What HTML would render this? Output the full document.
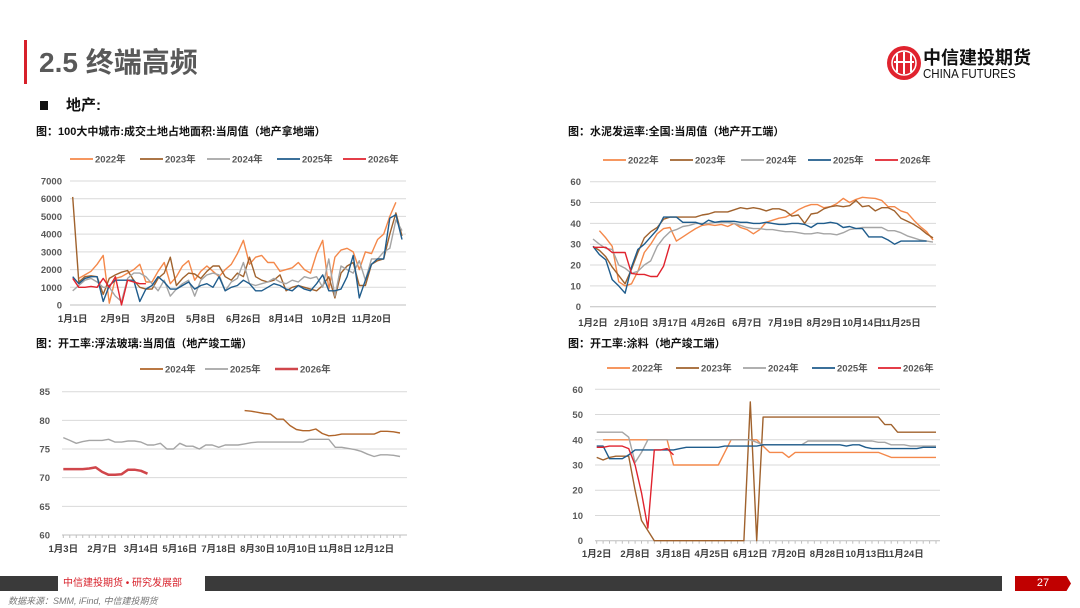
<!DOCTYPE html>
<html><head><meta charset="utf-8">
<style>
body{margin:0;width:1080px;height:608px;background:#fff;overflow:hidden;position:relative;font-family:"Liberation Sans","Noto Sans CJK SC",sans-serif;}
.abs{position:absolute;}
svg text{font-family:"Liberation Sans","Noto Sans CJK SC",sans-serif;}
</style></head><body>
<div class="abs" style="left:24px;top:40px;width:3px;height:44px;background:#d7202a"></div>
<div class="abs" style="left:39px;top:41px;font-size:28px;font-weight:bold;color:#595959">2.5 终端高频</div>
<div class="abs" style="left:40px;top:94px;font-size:15px;font-weight:bold;color:#111"><span style="display:inline-block;width:8px;height:9px;background:#111;margin-right:18px"></span>地产:</div>
<svg class="abs" style="left:884px;top:44px" width="40" height="40">
<circle cx="20" cy="19" r="17" fill="#e0232e"/><circle cx="20" cy="19" r="12" fill="none" stroke="#fff" stroke-width="1.5"/>
<rect x="12" y="10" width="2" height="18" fill="#fff"/><rect x="19" y="8" width="2" height="22" fill="#fff"/><rect x="26" y="10" width="2" height="18" fill="#fff"/><rect x="10" y="17" width="20" height="2" fill="#fff"/></svg>
<div class="abs" style="left:923px;top:44px;font-size:18px;font-weight:bold;color:#111">中信建投期货</div>
<div class="abs" style="left:923px;top:67px;font-size:12.5px;color:#111;transform:scaleX(0.92);transform-origin:left">CHINA FUTURES</div>

<svg id="chart" class="abs" style="left:0;top:0" width="1080" height="608"></svg>

<div class="abs" style="left:0;top:576px;width:58px;height:15px;background:#3a3a3a"></div>
<div class="abs" style="left:63px;top:576px;font-size:10px;color:#d7202a;line-height:15px">中信建投期货 • 研究发展部</div>
<div class="abs" style="left:205px;top:576px;width:797px;height:15px;background:#3a3a3a"></div>
<div class="abs" style="left:1015px;top:576px;width:56px;height:15px;background:#c00000;color:#fff;font-size:11px;line-height:15px;text-align:center;clip-path:polygon(0 0,92% 0,100% 50%,92% 100%,0 100%)">27</div>
<div class="abs" style="left:8px;top:594px;font-size:9px;font-style:italic;color:#777">数据来源：SMM, iFind, 中信建投期货</div>

<script>
// ---- Chart 1: land area ----
const c1Labels=["1月1日","2月9日","3月20日","5月8日","6月26日","8月14日","10月2日","11月20日"];
const c1Y=[0,1000,2000,3000,4000,5000,6000,7000];
const c1s2022=[null,1500,1700,1900,2300,2800,100,1500,1600,1800,2000,2300,1300,1300,1900,2400,1200,1600,2200,2500,1400,1900,2200,1900,1600,2000,2300,2900,3650,2300,2700,2800,2400,2400,1900,2000,2100,2400,2000,1800,2900,3650,900,2700,3100,3200,3000,2000,3000,2900,3700,4000,5000,5800,null];
const c1s2023=[6100,1300,1600,1650,1600,600,1500,1700,1850,1950,1400,1000,900,900,1500,1800,2700,1100,1500,1800,1750,1500,1900,2200,2200,1600,1400,1800,1600,2700,1600,1400,1300,1400,1700,800,1000,1100,1000,900,800,1100,1600,400,1800,2200,2400,1100,1100,2300,2500,2600,4000,5200,3900];
const c1s2024=[800,1100,1400,1500,1300,1000,1000,500,200,1500,1800,1800,1600,1200,800,1400,500,900,1200,1400,500,1400,1700,1800,1700,800,1300,1500,2400,1200,1100,1200,1300,1500,1300,1200,1400,1300,1600,1500,1600,1000,2600,500,2200,2000,1800,2500,1400,2600,2600,3000,3200,4800,4200];
const c1s2025=[1600,1200,1500,1600,1600,200,1100,1400,1400,1400,1400,200,900,1100,1600,1300,900,900,1100,1300,900,1100,1200,1000,1600,800,1000,1100,1400,1200,800,800,1000,1200,1100,900,800,1100,900,800,1200,1700,800,800,900,1600,2800,400,1400,2300,2600,2600,4900,5100,3700];
const c1s2026=[1500,1000,1000,1050,1000,1500,1000,1600,0,1400,1300,1200,1200];
// ---- Chart 2: cement ----
const c2Labels=["1月2日","2月10日","3月17日","4月26日","6月7日","7月19日","8月29日","10月14日","11月25日"];
const c2Y=[0,10,20,30,40,50,60];
const c2s2022=[null,36.5,33,29,12,10,11,17,26,30,35,37.5,38,31.5,33.5,35.5,37.5,39,39.5,39,39.5,38.5,40,38,37,35,37,40.5,41.5,42.5,43,44.5,46.5,48,49,49,47.5,48,49.5,52,50,51.5,52.5,52.2,52,51,48,48,46,45,41.5,38.5,36,32];
const c2s2023=[29,27,24,19,15,11,18,26,33,36,38,42,43,43,43,43,43,44,44.5,45.5,45.5,45.5,46.5,47.5,47,47.5,47,46,47,47,46,43.5,44,40,44.5,45,47,48,48.5,48,48.5,51,48,48.5,46,47.5,47.5,46,42.5,41,39.5,37.5,35,33];
const c2s2024=[32.5,30,28,27.5,20,18.5,16,17,20,22,29,33,36,37,38.5,39,40,40,40,40.5,40.5,40.5,40,39,38,37.5,37.5,37,37,36.5,36,36,35.5,35,35,35.5,35,35,34.5,35.5,37,37.5,38,38,38,38,36.5,36.5,35.5,34,33,32,31.5,31];
const c2s2025=[29,25,22.5,13,10,6.5,19,27.5,30,33.5,37,43,43,43,40.5,40.5,40.5,39.5,41.5,40.5,41,41,41,40.5,40.5,40,40,40.5,40,39.5,39.5,40,40,39.5,38,40,40,40.5,40,38,38.5,37.5,37.5,33.5,33.5,33.5,32,30,31.5,31.5,31.5,31.5,31.5];
const c2s2026=[28.5,28.5,28.5,26,26,26,16,15.5,15.5,14.5,14.5,19.5,30];
// ---- Chart 3: glass ----
const c3Labels=["1月3日","2月7日","3月14日","5月16日","7月18日","8月30日","10月10日","11月8日","12月12日"];
const c3Y=[60,65,70,75,80,85];
const c3s2024=[null,null,null,null,null,null,null,null,null,null,null,null,null,null,null,null,null,null,null,null,null,null,null,null,null,null,null,null,81.7,81.6,81.4,81.2,81.1,80.2,80.2,79.1,78.4,78.2,78.2,78.5,77.7,77.3,77.4,77.6,77.6,77.6,77.6,77.6,77.6,78.1,78.1,78.0,77.8];
const c3s2025=[77,76.5,76,76.3,76.5,76.5,76.5,76.7,76.2,76.2,76.4,76.4,76.2,75.7,75.7,76,75,75,76,75.5,75.5,75,75.7,75.7,75.3,75.7,75.7,75.7,75.9,76.1,76.2,76.2,76.2,76.2,76.2,76.2,76.2,76.2,76.7,76.7,76.7,76.7,75.3,75.3,75.1,74.9,74.6,74.1,73.7,74,74,73.9,73.7];
const c3s2026=[71.5,71.5,71.5,71.5,71.6,71.8,71,70.5,70.5,70.6,71.4,71.4,71.2,70.7];
// ---- Chart 4: paint ----
const c4Labels=["1月2日","2月8日","3月18日","4月25日","6月12日","7月20日","8月28日","10月13日","11月24日"];
const c4Y=[0,10,20,30,40,50,60];
const c4s2022=[null,40,40,40,40,40,40,40,40,40,40,40,30,30,30,30,30,30,30,30,35,40,40,40,40,40,37.5,35,35,35,33,35,35,35,35,35,35,35,35,35,35,35,35,35,35,34,33,33,33,33,33,33,33,33];
const c4s2023=[33,32,33,33.5,33.5,33.5,20,8,4,0,0,0,0,0,0,0,0,0,0,0,0,0,0,0,55,0,49,49,49,49,49,49,49,49,49,49,49,49,49,49,49,49,49,49,49,46,46,43,43,43,43,43,43,43];
const c4s2024=[43,43,43,43,43,41,31,35,40,40,40,40,40,40,40,40,40,40,40,40,40,40,40,40,40,39,38,38,38,38,38,38,38,39.5,39.5,39.5,39.5,39.5,39.5,39.5,39.5,39.5,39.5,39.5,39,39,38,38,38,37.5,37.5,37.5,37.5,37.5];
const c4s2025=[37.5,37.5,32.5,32.5,32.5,34,36,36,36,36,36,36,36,36.5,37,37,37,37,37,37,37.5,37.5,37.5,37.5,37.5,37.5,38,38,38,38,38,38,38,38,38,38,38,38,38,37.5,38,38,37,36.5,36.5,36.5,36.5,36.5,36.5,36.5,36.5,37,37,37];
const c4s2026=[37,37,37.5,37.5,37.5,36.5,30,19,5,36,36,36.5,34];

const NS="http://www.w3.org/2000/svg";
const svg=document.getElementById('chart');
function mk(tag,attrs,parent){const e=document.createElementNS(NS,tag);for(const k in attrs)e.setAttribute(k,attrs[k]);(parent||svg).appendChild(e);return e;}

function drawChart(cfg){
  const g=mk('g',{});
  
  
  const t=mk('text',{x:cfg.titleX,y:cfg.titleY,'font-size':11,'font-weight':'bold',fill:'#111'},g);
  t.textContent=cfg.title;
  
  
  const ymin=cfg.yTicks[0], ymax=cfg.yTicks[cfg.yTicks.length-1];
  const yS=v=>cfg.yBot-(v-ymin)/(ymax-ymin)*(cfg.yBot-cfg.yTop);
  const step=(cfg.xLast-cfg.x0)/(cfg.n-1);
  const xS=i=>cfg.x0+i*step;
  cfg.yTicks.forEach(v=>{
    const l=mk('line',{x1:cfg.gridL,x2:cfg.gridR,y1:yS(v),y2:yS(v),stroke:v===ymin?'#bfbfbf':'#d9d9d9','stroke-width':1},g);
    
    
    const tx=mk('text',{x:cfg.yLabX,y:yS(v)+3.5,'font-size':9.5,'font-weight':'bold',fill:'#595959','text-anchor':'end'},g);
    tx.textContent=v;
    
    
  });
  if(cfg.ticks){for(let i=0;i<cfg.n;i++){const tk=mk('line',{x1:xS(i),x2:xS(i),y1:cfg.yBot,y2:cfg.yBot+3,stroke:'#bfbfbf'},g);}}
  cfg.xLabels.forEach((s,j)=>{
    const tx=mk('text',{x:xS(j*cfg.labStep),y:cfg.xLabY,'font-size':9.5,'font-weight':'bold',fill:'#404040','text-anchor':'middle'},g);
    tx.textContent=s;
    
    
  });
  cfg.series.forEach(s=>{
    let d='';let pen=false;
    s.data.forEach((v,i)=>{
      if(v===null||v===undefined){pen=false;return;}
      d+=(pen?'L':'M')+xS(i).toFixed(1)+','+yS(v).toFixed(1);pen=true;
    });
    const p=mk('path',{d:d,fill:'none',stroke:s.color,'stroke-width':s.w||1.4,'stroke-linejoin':'round'},g);
    
    
  });
  cfg.series.forEach((s,k)=>{
    const lx=cfg.legX[k];
    const ll=mk('line',{x1:lx,x2:lx+23,y1:cfg.legY,y2:cfg.legY,stroke:s.color,'stroke-width':s.w?2.5:1.8},g);
    
    
    const lt=mk('text',{x:lx+25,y:cfg.legY+3.5,'font-size':9.5,'font-weight':'bold',fill:'#595959'},g);
    lt.textContent=s.label;
    
    
  });
}
const O='#F4884A',B='#A0622D',G='#A5A5A5',BL='#1F5C8C',R='#E0232E';
drawChart({name:'land-area-chart',title:'图：100大中城市:成交土地占地面积:当周值（地产拿地端）',titleX:36,titleY:135,
 yTicks:c1Y,yTop:181,yBot:305,yLabX:62,gridL:70,gridR:406,x0:72.7,xLast:402,n:55,labStep:7,xLabels:c1Labels,xLabY:322,
 legY:159,legX:[70,140,207,277,343],
 series:[{label:'2022年',color:O,data:c1s2022},{label:'2023年',color:B,data:c1s2023},{label:'2024年',color:G,data:c1s2024},{label:'2025年',color:BL,data:c1s2025},{label:'2026年',color:R,data:c1s2026}]});
drawChart({name:'cement-shipment-chart',title:'图：水泥发运率:全国:当周值（地产开工端）',titleX:568,titleY:135,
 yTicks:c2Y,yTop:181.7,yBot:306.7,yLabX:581,gridL:590,gridR:936,x0:593,xLast:933,n:54,labStep:6,xLabels:c2Labels,xLabY:326,
 legY:160,legX:[603,670,741,808,875],
 series:[{label:'2022年',color:O,data:c2s2022},{label:'2023年',color:B,data:c2s2023},{label:'2024年',color:G,data:c2s2024},{label:'2025年',color:BL,data:c2s2025},{label:'2026年',color:R,data:c2s2026}]});
drawChart({name:'float-glass-chart',title:'图：开工率:浮法玻璃:当周值（地产竣工端）',titleX:36,titleY:347,
 yTicks:c3Y,yTop:391.7,yBot:535,yLabX:50,gridL:62,gridR:407,x0:63.3,xLast:400,n:53,labStep:6,xLabels:c3Labels,xLabY:552,ticks:true,
 legY:369,legX:[140,205,275],
 series:[{label:'2024年',color:'#B0652A',data:c3s2024},{label:'2025年',color:G,data:c3s2025},{label:'2026年',color:'#D0464B',data:c3s2026,w:2.5}]});
drawChart({name:'paint-operating-chart',title:'图：开工率:涂料（地产竣工端）',titleX:568,titleY:347,
 yTicks:c4Y,yTop:389.3,yBot:540.7,yLabX:583,gridL:595,gridR:940,x0:596.7,xLast:936,n:54,labStep:6,xLabels:c4Labels,xLabY:557,ticks:true,
 legY:368,legX:[607,676,743,812,878],
 series:[{label:'2022年',color:O,data:c4s2022},{label:'2023年',color:B,data:c4s2023},{label:'2024年',color:G,data:c4s2024},{label:'2025年',color:BL,data:c4s2025},{label:'2026年',color:R,data:c4s2026}]});
</script>
</body></html>
